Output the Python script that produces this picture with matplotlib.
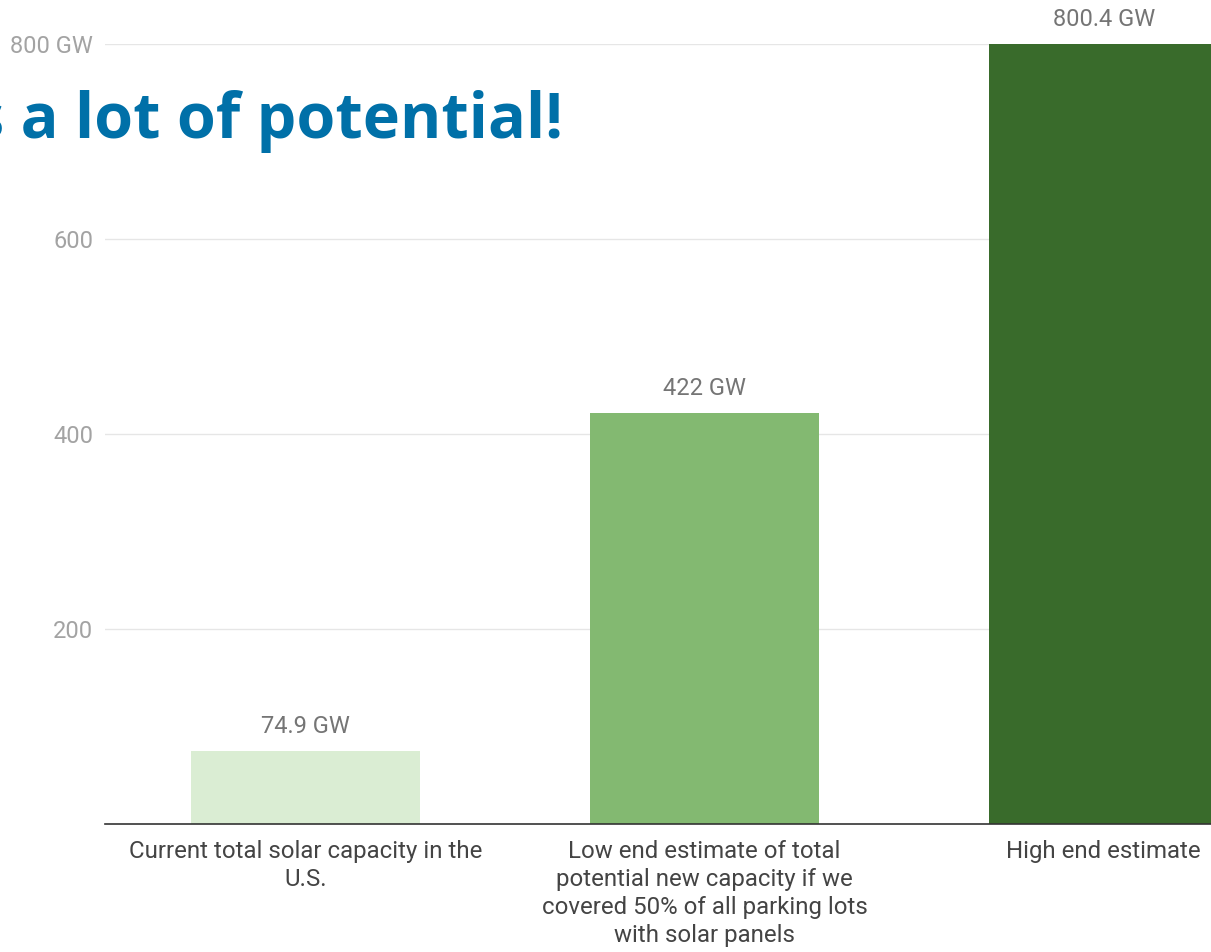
import matplotlib
matplotlib.use("Agg")
import matplotlib.pyplot as plt

categories = ["Current total solar capacity in the\nU.S.",
              "Low end estimate of total\npotential new capacity if we\ncovered 50% of all parking lots\nwith solar panels",
              "High end estimate"]
values = [74.9, 422, 800.4]
value_labels = ["74.9 GW", "422 GW", "800.4 GW"]
bar_colors = ["#daedd3", "#83b971", "#396b2b"]
yticks = [200, 400, 600, 800]
ytick_labels = ["200", "400", "600", "800 GW"]
title = "s a lot of potential!"

W, H = 1211, 952
fig = plt.figure(figsize=(W / 100, H / 100), dpi=100)
left, right, bottom, top = 105, 1211, 824, 44
ax = fig.add_axes([left / W, 1 - bottom / H, (right - left) / W, (bottom - top) / H])

x = list(range(len(categories)))
ax.bar(x, values, width=0.574, color=bar_colors, zorder=3, clip_on=False)
ax.set_xlim(-0.5025, 2.269)
ax.set_ylim(0, 800)

for xi, v, lab in zip(x, values, value_labels):
    ax.annotate(lab, (xi, v), xytext=(0, 9), textcoords="offset points",
                ha="center", va="bottom", fontsize=17, color="#757575",
                family="Roboto", annotation_clip=False)

ax.set_yticks(yticks)
ax.set_yticklabels(ytick_labels, fontsize=17, color="#a3a3a3", family="Roboto")
ax.tick_params(axis="y", length=0, pad=8.5)
ax.grid(axis="y", color="#e6e6e6", linewidth=1, zorder=0)

ax.set_xticks(x)
ax.set_xticklabels(categories, fontsize=17.3, color="#444444", family="Roboto",
                   linespacing=1.27, va="top")
ax.tick_params(axis="x", length=0, pad=11.5)

for s in ["top", "right", "left"]:
    ax.spines[s].set_visible(False)
ax.spines["bottom"].set_color("#333333")
ax.spines["bottom"].set_linewidth(1.2)
ax.spines["bottom"].set_zorder(4)

fig.text(-27 / W, 1 - 138 / H, title, fontsize=45.3, fontweight="bold",
         color="#0070a8", family="Open Sans", ha="left", va="baseline")

fig.savefig("out.png", dpi=100, facecolor="white")
